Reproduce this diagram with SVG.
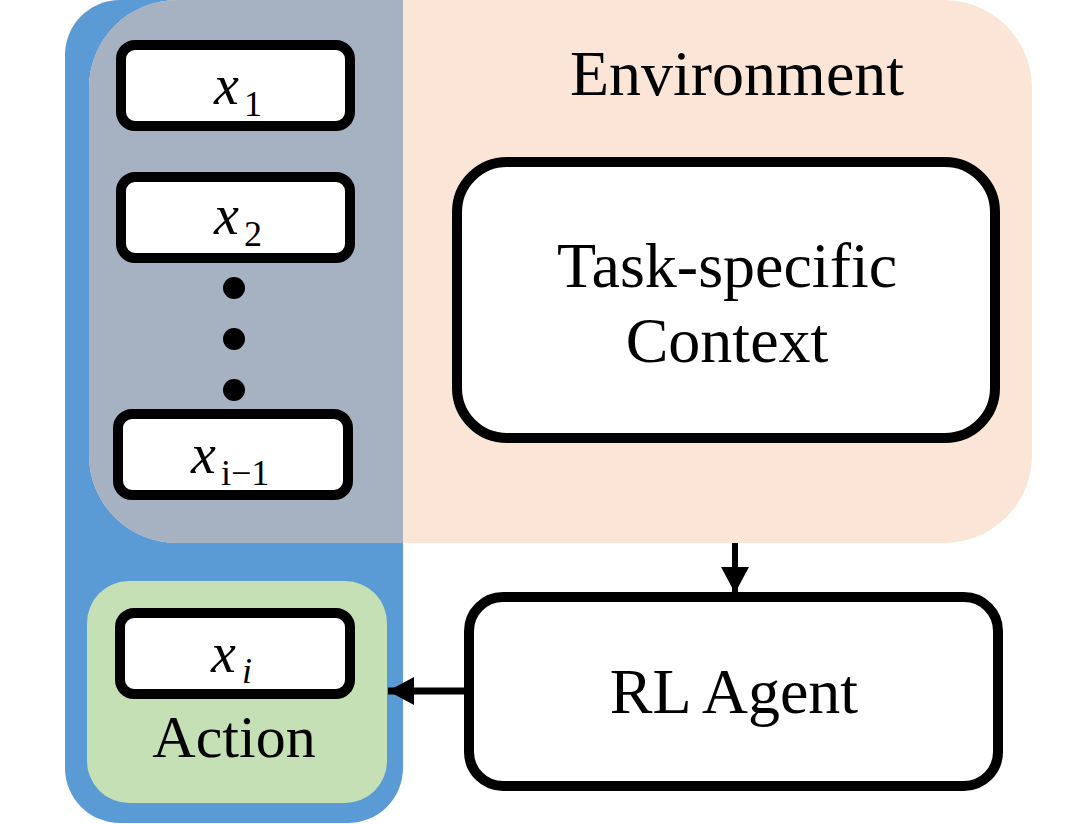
<svg xmlns="http://www.w3.org/2000/svg" width="1065" height="824" viewBox="0 0 1065 824">
<style>
.box{fill:#fff;stroke:#000;stroke-width:10}
.t{font-family:"Liberation Serif","Times New Roman",serif;fill:#000;text-anchor:middle}
.m{font-family:"Liberation Serif","Times New Roman",serif;fill:#000}
.conn{stroke:#000;stroke-width:7;fill:none}
</style>
<defs>
<marker id="ah" markerWidth="26" markerHeight="28" refX="26" refY="14" orient="auto" markerUnits="userSpaceOnUse" viewBox="0 0 26 28">
<path d="M0,0 L26,14 L0,28 Z" fill="#000"/>
</marker>
</defs>
<rect width="1065" height="824" fill="#fff"/>
<g id="action-column">
<rect x="65" y="0" width="338" height="823" rx="55" fill="#5B9BD5"/>
</g>
<g id="environment">
<rect x="89" y="0" width="943" height="543" rx="88" fill="#FBE5D6"/>
<path d="M403,0 L177,0 A88,88 0 0 0 89,88 L89,455 A88,88 0 0 0 177,543 L403,543 Z" fill="#A6B1C2"/>
<text class="t" x="737" y="95" font-size="64">Environment</text>
</g>
<g id="x1">
<rect class="box" x="121" y="45" width="229" height="81" rx="14"/>
<text class="m" x="214" y="104" font-size="56" font-style="italic">x</text>
<text class="m" x="244" y="116" font-size="36">1</text>
</g>
<g id="x2">
<rect class="box" x="121" y="177" width="229" height="81" rx="14"/>
<text class="m" x="214" y="234" font-size="56" font-style="italic">x</text>
<text class="m" x="244" y="246" font-size="36">2</text>
</g>
<g id="dots">
<circle cx="234" cy="288" r="11" fill="#000"/>
<circle cx="234" cy="339" r="11" fill="#000"/>
<circle cx="234" cy="390" r="11" fill="#000"/>
</g>
<g id="xi-1">
<rect class="box" x="118" y="414" width="230" height="81" rx="14"/>
<text class="m" x="191" y="473" font-size="56" font-style="italic">x</text>
<text class="m" x="221" y="485" font-size="36">i−1</text>
</g>
<g id="task-context">
<rect class="box" x="457" y="162" width="538" height="276" rx="50"/>
<text class="t" x="727" y="287" font-size="64">Task-specific</text>
<text class="t" x="727" y="362" font-size="64">Context</text>
</g>
<g id="action">
<rect x="87" y="581" width="300" height="222" rx="42" fill="#C5E0B4"/>
<rect class="box" x="120" y="613" width="230" height="81" rx="14"/>
<text class="m" x="211" y="672" font-size="56" font-style="italic">x</text>
<text class="m" x="242" y="683" font-size="36" font-style="italic">i</text>
<text class="t" x="234" y="757" font-size="60">Action</text>
</g>
<g id="rl-agent">
<rect class="box" x="469" y="597" width="529" height="189" rx="34"/>
<text class="t" x="734" y="713" font-size="64">RL Agent</text>
</g>
<g id="connectors">
<line class="conn" x1="735" y1="543" x2="735" y2="593" marker-end="url(#ah)" style="stroke-width:6"/>
<line class="conn" x1="464" y1="691" x2="388" y2="691" marker-end="url(#ah)"/>
</g>
</svg>
